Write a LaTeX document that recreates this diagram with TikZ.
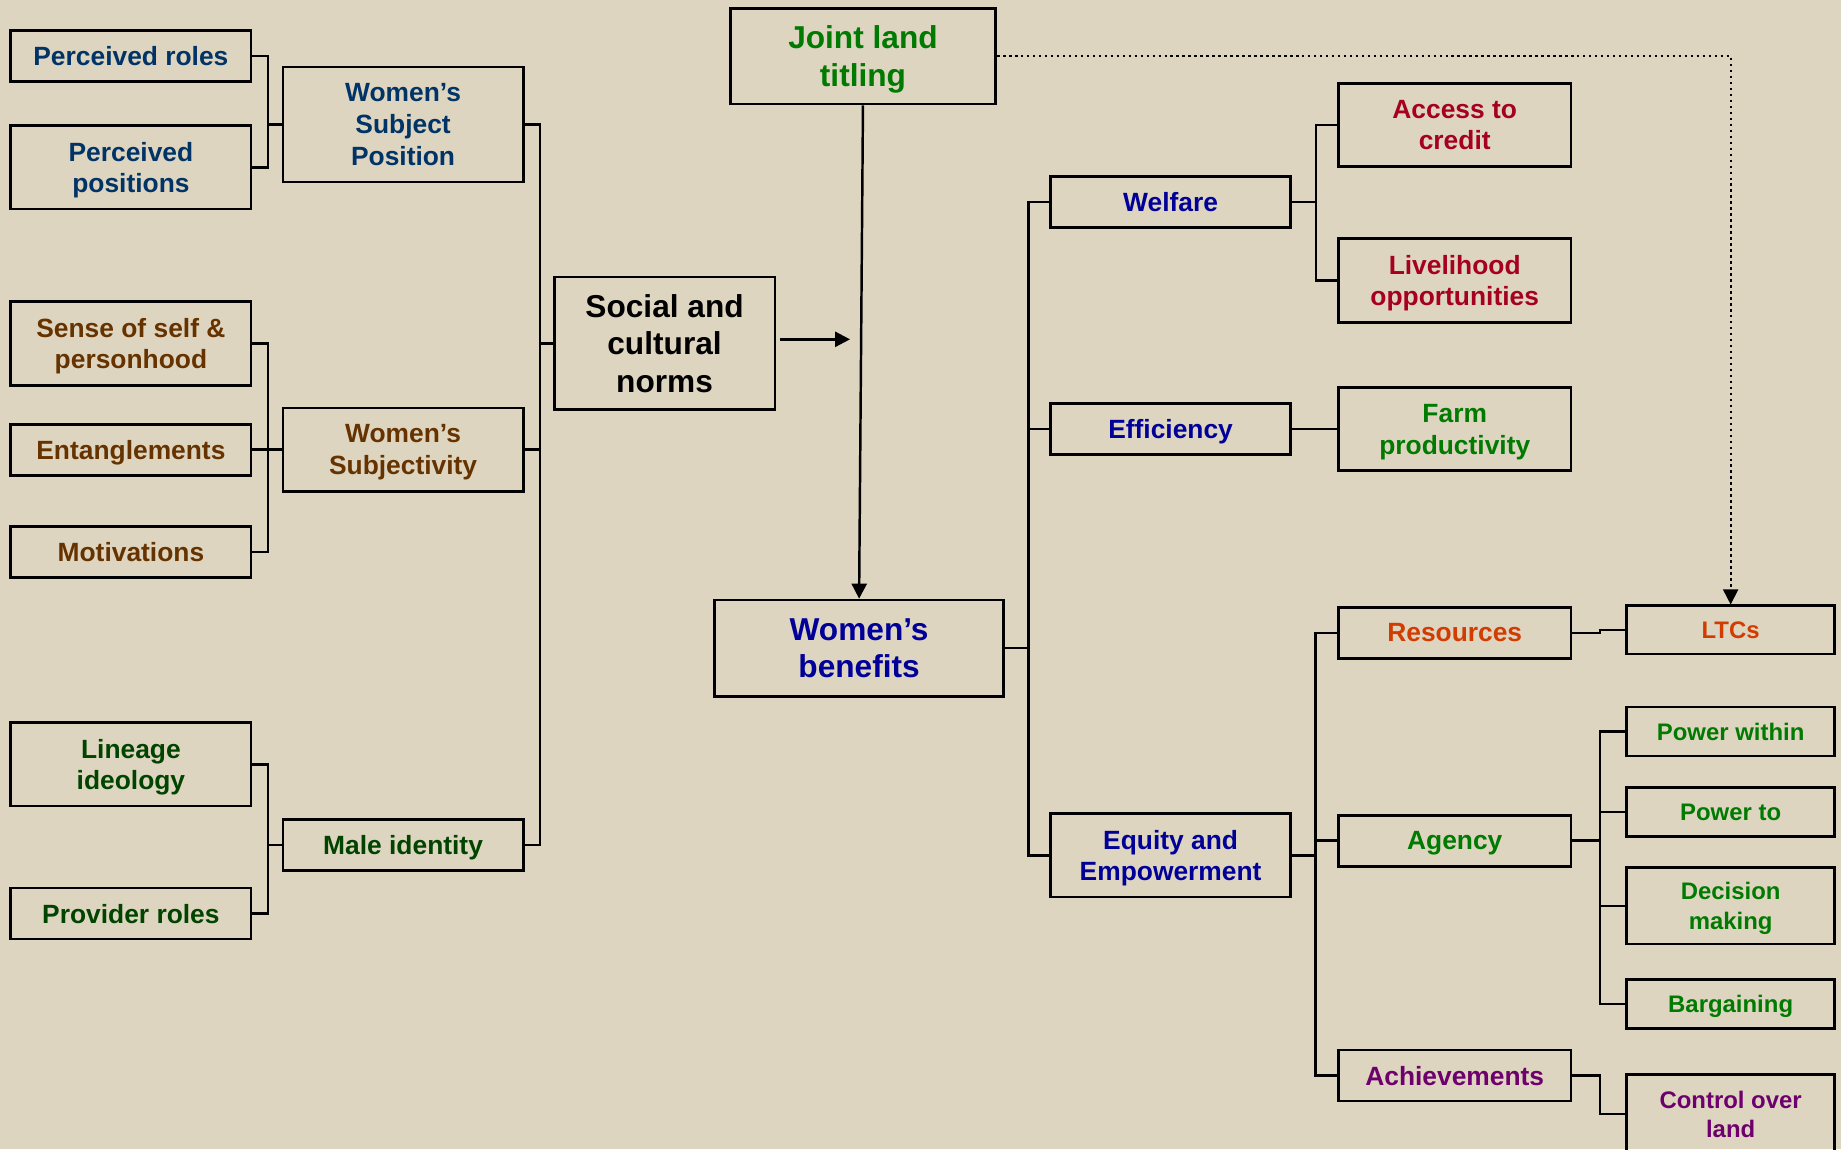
\documentclass[tikz,border=0pt]{standalone}
\usepackage{fontspec}
\setmainfont{Liberation Sans}
\usetikzlibrary{arrows.meta,calc,positioning}
\definecolor{canvas}{RGB}{222,213,192}
\definecolor{navy}{RGB}{0,51,102}
\definecolor{umber}{RGB}{102,51,0}
\definecolor{forest}{RGB}{0,68,0}
\definecolor{leaf}{RGB}{0,122,0}
\definecolor{royal}{RGB}{0,0,153}
\definecolor{crimson}{RGB}{165,0,33}
\definecolor{rust}{RGB}{210,60,0}
\definecolor{plum}{RGB}{110,0,110}

\begin{document}
\begin{tikzpicture}[
  x=0.011741cm, y=-0.011741cm,
  every node/.style={draw=black, line width=0.8pt, inner sep=0pt, align=center, text depth=-0.45pt, font=\fontsize{7.5}{9}\selectfont\bfseries},
  big/.style={text depth=-0.85pt, font=\fontsize{9}{10.6}\selectfont\bfseries},
  small/.style={font=\fontsize{6.8}{8.3}\selectfont\bfseries},
  one/.style={minimum height=0.51cm},
  two/.style={minimum height=0.834cm},
  wide/.style={minimum width=2.40cm},
  mid/.style={minimum width=2.325cm},
  slim/.style={minimum width=2.08cm},
  link/.style={draw, line width=0.7pt},
  arr/.style={-{Triangle[length=0.15cm, width=0.15cm]}, line width=0.7pt}
]
\useasboundingbox (0,0) rectangle (1568,979);
\fill[canvas] (0,0) rectangle (1568,979);

% left: what shapes the norms
\node[wide, one, text=navy] (prr) at (111.5,47.5) {Perceived roles};
\node[wide, two, text=navy] (prp) at (111.5,142.5) {Perceived\\positions};
\node[wide, two, text=umber] (sos) at (111.5,292.5) {Sense of self \&\\personhood};
\node[wide, one, text=umber] (ent) at (111.5,383) {Entanglements};
\node[wide, one, text=umber] (mot) at (111.5,470) {Motivations};
\node[wide, two, text=forest] (lin) at (111.5,651) {Lineage\\ideology};
\node[wide, one, text=forest] (pro) at (111.5,778) {Provider roles};

\node[wide, minimum height=1.15cm, text=navy] (wsp) at (343.3,106) {Women’s\\Subject\\Position};
\node[wide, two, text=umber] (wsy) at (343.3,383) {Women’s\\Subjectivity};
\node[wide, one, text=forest] (mal) at (343.3,719.5) {Male identity};

\node[big, minimum width=2.207cm, minimum height=1.327cm] (scn) at (566,292.5) {Social and\\cultural\\norms};
\node[big, minimum width=2.653cm, minimum height=0.958cm, text=leaf] (jlt) at (735,47.8) {Joint land\\titling};
\node[big, minimum width=2.889cm, minimum height=0.96cm, text=royal] (wbn) at (731.7,552) {Women’s\\benefits};

% right: the benefits
\node[wide, one, text=royal] (wel) at (997,172) {Welfare};
\node[wide, one, text=royal] (eff) at (997,365.5) {Efficiency};
\node[wide, two, text=royal] (eqe) at (997,728.5) {Equity and\\Empowerment};

\node[mid, two, text=crimson] (acc) at (1239,106.5) {Access to\\credit};
\node[mid, two, text=crimson] (liv) at (1239,239) {Livelihood\\opportunities};
\node[mid, two, text=leaf] (frm) at (1239,365.5) {Farm\\productivity};
\node[mid, one, text=rust] (res) at (1239,539) {Resources};
\node[mid, one, text=leaf] (agy) at (1239,716) {Agency};
\node[mid, one, text=plum] (ach) at (1239,916) {Achievements};

\node[slim, small, minimum height=0.48cm, text=rust] (ltc) at (1474,536.5) {LTCs};
\node[slim, small, minimum height=0.49cm, text=leaf] (pwi) at (1474,623) {Power within};
\node[slim, small, minimum height=0.485cm, text=leaf] (pto) at (1474,691.5) {Power to};
\node[slim, small, minimum height=0.763cm, text=leaf] (dmk) at (1474,771.5) {Decision\\making};
\node[slim, small, minimum height=0.49cm, text=leaf] (bgn) at (1474,855) {Bargaining};
\node[slim, small, minimum height=0.79cm, text=plum] (col) at (1474,949) {Control over\\land};

% brackets
\draw[link] (prr.east) -- ++(13.5,0) |- (wsp.west);
\draw[link] (prp.east) -- ++(13.5,0) |- (wsp.west);
\draw[link] (sos.east) -- ++(13.5,0) |- (wsy.west);
\draw[link] (ent.east) -- (wsy.west);
\draw[link] (mot.east) -- ++(13.5,0) |- (wsy.west);
\draw[link] (lin.east) -- ++(13.5,0) |- (mal.west);
\draw[link] (pro.east) -- ++(13.5,0) |- (mal.west);
\draw[link] (wsp.east) -- ++(13,0) |- (scn.west);
\draw[link] (wsy.east) -- ++(13,0) |- (scn.west);
\draw[link] (mal.east) -- ++(13,0) |- (scn.west);

\draw[link] (wbn.east) -- ++(20,0) |- (wel.west);
\draw[link] (wbn.east) -- ++(20,0) |- (eff.west);
\draw[link] (wbn.east) -- ++(20,0) |- (eqe.west);
\draw[link] (wel.east) -- ++(20.5,0) |- (acc.west);
\draw[link] (wel.east) -- ++(20.5,0) |- (liv.west);
\draw[link] (eff.east) -- (frm.west);
\draw[link] (eqe.east) -- ++(20,0) |- (res.west);
\draw[link] (eqe.east) -- ++(20,0) |- (agy.west);
\draw[link] (eqe.east) -- ++(20,0) |- (ach.west);
\draw[link] (res.east) -- ++(23.5,0) |- (ltc.west);
\draw[link] (agy.east) -- ++(23.5,0) |- (pwi.west);
\draw[link] (agy.east) -- ++(23.5,0) |- (pto.west);
\draw[link] (agy.east) -- ++(23.5,0) |- (dmk.west);
\draw[link] (agy.east) -- ++(23.5,0) |- (bgn.west);
\draw[link] (ach.east) -- ++(23.5,0) |- (col.west);

% arrows
\coordinate (tip) at (724,289);
\draw[arr] (jlt.south) -- (wbn.north);
\draw[arr, shorten <=0.04cm] (scn.east |- tip) -- (tip);
\draw[arr, densely dotted, line width=0.5pt] (jlt.east) -| (ltc.north);
\end{tikzpicture}
\end{document}
